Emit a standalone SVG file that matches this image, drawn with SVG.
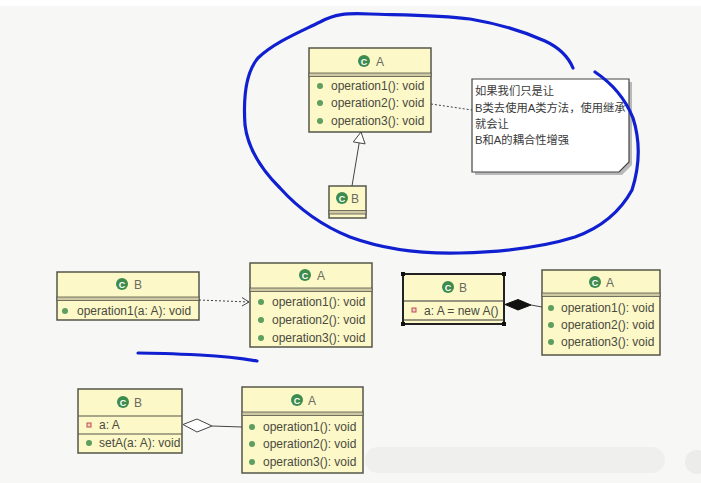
<svg xmlns="http://www.w3.org/2000/svg" width="701" height="483" viewBox="0 0 701 483">
<style>
.box{fill:#fcf8c8;stroke:#55554a;stroke-width:1.5}
.band{fill:#cfc9a3;stroke:#55554a;stroke-width:0.8}
.t{font-family:"Liberation Sans",Arial,sans-serif;font-size:12px;fill:#4a4a3e}
.n{font-family:"Liberation Sans",Arial,sans-serif;font-size:12px;fill:#6a6a60}
.ic{fill:#3d8c4e}
.ict{font-family:"Liberation Sans",Arial,sans-serif;font-size:9px;font-weight:bold;fill:#ffffff}
.dot{fill:#5e9e5e}
.fld{fill:#f2d0c8;stroke:#c04a4a;stroke-width:1}
.note{font-family:"Liberation Sans","Noto Sans CJK SC",sans-serif;font-size:11.3px;fill:#3a3a3a}
.ln{fill:none;stroke:#444;stroke-width:1}
.dash{fill:none;stroke:#444;stroke-width:1;stroke-dasharray:2,2}
.hd{fill:#111}
</style>
<defs>
<clipPath id="nc"><rect x="472" y="79" width="157" height="93"/></clipPath>
</defs>
<rect x="0" y="0" width="701" height="483" fill="#f7f8f5"/>
<rect x="0" y="0" width="701" height="6" fill="#ffffff"/>
<!-- faint overlay artifact -->
<rect x="365" y="447" width="300" height="26" rx="13" fill="#efefed"/>
<circle cx="697" cy="462" r="12" fill="#ececea"/>

<!-- top A -->
<g id="topA">
<rect class="box" x="309" y="48" width="122" height="84"/>
<rect class="band" x="309" y="73" width="122" height="3.5"/>
<circle class="ic" cx="364" cy="61" r="6"/><text class="ict" x="364" y="64.5" text-anchor="middle">C</text>
<text class="n" x="376" y="66">A</text>
<circle class="dot" cx="320" cy="86" r="3"/><text class="t" x="331" y="90">operation1(): void</text>
<circle class="dot" cx="320" cy="103" r="3"/><text class="t" x="331" y="107">operation2(): void</text>
<circle class="dot" cx="320" cy="121" r="3"/><text class="t" x="331" y="125">operation3(): void</text>
</g>

<!-- top B -->
<g id="topB">
<rect class="box" x="329" y="186" width="37" height="32"/>
<rect class="band" x="329" y="210.5" width="37" height="3.5"/>
<circle class="ic" cx="342" cy="198" r="6"/><text class="ict" x="342" y="201.5" text-anchor="middle">C</text>
<text class="n" x="351" y="203">B</text>
</g>

<!-- note -->
<g id="note">
<path d="M475,82 H632 V165 L622,175 H475 Z" fill="#b9b9b9"/>
<path d="M472,79 H629 V162 L619,172 H472 Z" fill="#ffffff" stroke="#444" stroke-width="1.2"/>
<g clip-path="url(#nc)">
<text class="note" x="475" y="95">如果我们只是让</text>
<text class="note" x="475" y="112">B类去使用A类方法，使用继承</text>
<text class="note" x="475" y="128">就会让</text>
<text class="note" x="475" y="144">B和A的耦合性增强</text>
</g>
</g>

<!-- middle left B -->
<g id="midB">
<rect class="box" x="57" y="272" width="142" height="48"/>
<rect class="band" x="57" y="297" width="142" height="3.5"/>
<circle class="ic" cx="122" cy="284" r="6"/><text class="ict" x="122" y="287.5" text-anchor="middle">C</text>
<text class="n" x="134" y="289">B</text>
<circle class="dot" cx="65" cy="311" r="3"/><text class="t" x="77" y="315">operation1(a: A): void</text>
</g>

<!-- middle A -->
<g id="midA">
<rect class="box" x="250" y="263" width="122" height="84"/>
<rect class="band" x="250" y="288" width="122" height="3.5"/>
<circle class="ic" cx="305" cy="275" r="6"/><text class="ict" x="305" y="278.5" text-anchor="middle">C</text>
<text class="n" x="317" y="280">A</text>
<circle class="dot" cx="261" cy="302" r="3"/><text class="t" x="272" y="306">operation1(): void</text>
<circle class="dot" cx="261" cy="320" r="3"/><text class="t" x="272" y="324">operation2(): void</text>
<circle class="dot" cx="261" cy="338" r="3"/><text class="t" x="272" y="342">operation3(): void</text>
</g>

<!-- right B (selected) -->
<g id="rightB">
<rect class="box" x="403" y="274" width="101" height="50" style="stroke:#222;stroke-width:2"/>
<line x1="403" y1="301" x2="504" y2="301" stroke="#333" stroke-width="1"/>
<line x1="403" y1="320" x2="504" y2="320" stroke="#333" stroke-width="1"/>
<circle class="ic" cx="448" cy="287" r="6"/><text class="ict" x="448" y="290.5" text-anchor="middle">C</text>
<text class="n" x="459" y="292">B</text>
<rect class="fld" x="412" y="308" width="4" height="4"/>
<text class="t" x="424" y="315">a: A = new A()</text>
<rect class="hd" x="401" y="272" width="4" height="4"/>
<rect class="hd" x="502" y="272" width="4" height="4"/>
<rect class="hd" x="401" y="322" width="4" height="4"/>
<rect class="hd" x="502" y="322" width="4" height="4"/>
</g>

<!-- right A -->
<g id="rightA">
<rect class="box" x="542" y="270" width="118" height="85"/>
<rect class="band" x="542" y="293" width="118" height="3.5"/>
<circle class="ic" cx="595" cy="282" r="6"/><text class="ict" x="595" y="285.5" text-anchor="middle">C</text>
<text class="n" x="606" y="287">A</text>
<circle class="dot" cx="551" cy="308" r="3"/><text class="t" x="561" y="312">operation1(): void</text>
<circle class="dot" cx="551" cy="325" r="3"/><text class="t" x="561" y="329">operation2(): void</text>
<circle class="dot" cx="551" cy="342" r="3"/><text class="t" x="561" y="346">operation3(): void</text>
</g>

<!-- bottom B -->
<g id="botB">
<rect class="box" x="78" y="389" width="104" height="64"/>
<line x1="78" y1="416" x2="182" y2="416" stroke="#55554a" stroke-width="1"/>
<line x1="78" y1="434" x2="182" y2="434" stroke="#55554a" stroke-width="1"/>
<circle class="ic" cx="123" cy="402" r="6"/><text class="ict" x="123" y="405.5" text-anchor="middle">C</text>
<text class="n" x="134" y="407">B</text>
<rect class="fld" x="87" y="423" width="4" height="4"/>
<text class="t" x="99" y="429">a: A</text>
<circle class="dot" cx="89" cy="443" r="3"/><text class="t" x="99" y="447">setA(a: A): void</text>
</g>

<!-- bottom A -->
<g id="botA">
<rect class="box" x="242" y="387" width="121" height="86"/>
<rect class="band" x="242" y="412" width="121" height="3.5"/>
<circle class="ic" cx="297" cy="400" r="6"/><text class="ict" x="297" y="403.5" text-anchor="middle">C</text>
<text class="n" x="308" y="405">A</text>
<circle class="dot" cx="252" cy="427" r="3"/><text class="t" x="263" y="431">operation1(): void</text>
<circle class="dot" cx="252" cy="444" r="3"/><text class="t" x="263" y="448">operation2(): void</text>
<circle class="dot" cx="252" cy="462" r="3"/><text class="t" x="263" y="466">operation3(): void</text>
</g>

<!-- connectors -->
<g id="connectors">
<line class="ln" x1="352" y1="186" x2="359.2" y2="142.9"/>
<polygon points="361,132 365.1,143.9 353.3,141.9" fill="#ffffff" stroke="#444" stroke-width="1"/>
<line class="dash" x1="431" y1="104" x2="472" y2="110"/>
<line class="dash" x1="199" y1="300" x2="249" y2="302"/>
<polyline class="ln" points="242,297.5 249,302 242,306"/>
<polygon points="505,304.5 518,299.5 531,305 518,310" fill="#111" stroke="#111" stroke-width="1"/>
<line class="ln" x1="531" y1="305" x2="542" y2="307"/>
<polygon points="183,424.5 197,419 212,426 197,432" fill="#ffffff" stroke="#444" stroke-width="1"/>
<line class="ln" x1="212" y1="426" x2="242" y2="427"/>
</g>

<!-- hand-drawn blue strokes -->
<g id="annotations" fill="none" stroke="#1020d0" stroke-width="3.2" stroke-linecap="round" stroke-linejoin="round">
<path d="M573,68 C568,56 560,48 545,41 C525,32 500,24 470,19 C440,15 400,15 370,14 C345,13 335,14 320,22 C300,32 275,42 258,58 C246,72 243,95 245,125 C248,150 262,170 280,188 C298,208 320,225 350,237 C380,248 420,254 460,253 C500,252 540,248 575,237 C600,228 620,212 632,190 C640,165 640,140 633,118 C625,98 610,82 595,72"/>
<path d="M138,353 C160,353 180,354 200,355 C220,356 240,358 257,361"/>
</g>
</svg>
